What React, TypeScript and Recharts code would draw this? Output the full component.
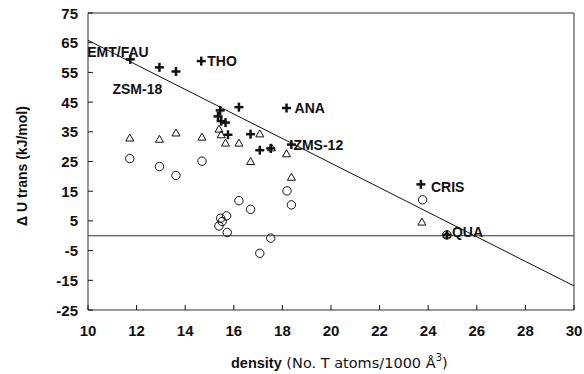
import React from 'react';
import {
  ScatterChart, Scatter, XAxis, YAxis, ReferenceLine, ReferenceArea, Label,
} from 'recharts';

const INK = '#111';
const FONT = '"Liberation Sans", Arial, Helvetica, sans-serif';

/* ─── data ─────────────────────────────────────────── */
// crosses: [density, ΔU, label]
const crossPoints: [number, number, string?][] = [
  [11.74, 59.4, 'EMT/FAU'],
  [12.94, 56.7, 'ZSM-18'],
  [13.62, 55.3],
  [14.66, 58.8, 'THO'],
  [15.44, 42.2],
  [15.35, 40.2],
  [15.48, 38.6],
  [15.66, 38.1],
  [15.76, 34.0],
  [16.21, 43.3],
  [16.69, 34.2],
  [17.07, 28.8],
  [17.52, 29.4],
  [18.17, 43.0, 'ANA'],
  [18.37, 30.7, 'ZMS-12'],
  [23.70, 17.3, 'CRIS'],
  [24.77, 0.3, 'QUA'],
];

const trianglePoints: [number, number][] = [
  [11.72, 32.9], [12.94, 32.5], [13.62, 34.6], [14.69, 33.2],
  [15.39, 35.9], [15.48, 34.0], [15.66, 31.2], [16.21, 31.2],
  [16.69, 25.0], [17.07, 34.3], [17.55, 29.6], [18.17, 27.6],
  [18.37, 19.7], [23.74, 4.6], [24.77, 0.3],
];

const circlePoints: [number, number][] = [
  [11.72, 26.0], [12.94, 23.3], [13.62, 20.3], [14.69, 25.1],
  [16.21, 11.8], [16.69, 8.9], [15.46, 5.9], [15.70, 6.7],
  [15.39, 3.3], [15.52, 4.8], [15.73, 1.1], [17.52, -0.8],
  [17.07, -5.9], [18.19, 15.1], [18.37, 10.4], [23.77, 12.1],
  [24.77, 0.3],
];

// least-squares line through the cross data (end points)
const fitLine = [
  { x: 10, y: 65.8 },
  { x: 30, y: -16.9 },
];

const xTicks = [10, 12, 14, 16, 18, 20, 22, 24, 26, 28, 30];
const yTicks = [-25, -15, -5, 5, 15, 25, 35, 45, 55, 65, 75];

// where each point label sits relative to its marker (px)
const LABEL_OFFSET: Record<string, [number, number]> = {
  'EMT/FAU': [-43, -7],
  'ZSM-18': [-47, 22],
  THO: [6, 0],
  ANA: [8, 0],
  'ZMS-12': [2, 0],
  CRIS: [10, 3],
  QUA: [5, -3],
};

const crosses = crossPoints.map(([x, y, name]) => ({ x, y, name }));
const triangles = trianglePoints.map(([x, y]) => ({ x, y }));
const circles = circlePoints.map(([x, y]) => ({ x, y }));

/* ─── marker shapes ────────────────────────────────── */
function CrossShape(props: any) {
  const { cx, cy, payload } = props;
  const off = payload.name ? LABEL_OFFSET[payload.name] : null;
  return (
    <g>
      <line x1={cx - 4.5} y1={cy} x2={cx + 4.5} y2={cy} stroke={INK} strokeWidth={2.5} />
      <line x1={cx} y1={cy - 4.5} x2={cx} y2={cy + 4.5} stroke={INK} strokeWidth={2.5} />
      {off && (
        <text x={cx + off[0]} y={cy + off[1]} dominantBaseline="central"
          fontFamily={FONT} fontWeight={700} fontSize={14} fill={INK}>
          {payload.name}
        </text>
      )}
    </g>
  );
}

function TriangleShape(props: any) {
  const { cx, cy } = props;
  return (
    <polygon
      points={`${cx},${cy - 4} ${cx - 4},${cy + 3} ${cx + 4},${cy + 3}`}
      fill="none" stroke={INK} strokeWidth={1}
    />
  );
}

function CircleShape(props: any) {
  const { cx, cy } = props;
  return <circle cx={cx} cy={cy} r={4.2} fill="none" stroke={INK} strokeWidth={1} />;
}

/* ─── ticks drawn inward ───────────────────────────── */
function XTick(props: any) {
  const { x, y, payload } = props;
  return (
    <g>
      <line x1={x} y1={y} x2={x} y2={y - 5} stroke={INK} />
      <text x={x} y={y + 20} textAnchor="middle" dominantBaseline="central"
        fontFamily={FONT} fontWeight={700} fontSize={15} fill={INK}>
        {payload.value}
      </text>
    </g>
  );
}

function YTick(props: any) {
  const { x, y, payload } = props;
  return (
    <g>
      <line x1={x} y1={y} x2={x + 5} y2={y} stroke={INK} />
      <text x={x - 10} y={y} textAnchor="end" dominantBaseline="central"
        fontFamily={FONT} fontWeight={700} fontSize={15} fill={INK}>
        {payload.value}
      </text>
    </g>
  );
}

export default function App() {
  return (
    <div style={{ position: 'absolute', left: 0, top: 0, width: 584, height: 374, background: '#fff' }}>
      <ScatterChart width={584} height={374} margin={{ top: 13, right: 10, bottom: 34, left: 0 }}>
        <XAxis
          type="number" dataKey="x" domain={[10, 30]} ticks={xTicks} interval={0}
          axisLine={false} tickLine={false} tickSize={0} tickMargin={0}
          height={30} tick={<XTick />} allowDataOverflow
        >
          <Label content={() => (
            <text x={231} y={363} dominantBaseline="central" fill={INK}>
              <tspan fontFamily={FONT} fontWeight={700} fontSize={14.5}>density</tspan>
              <tspan fontFamily='"DejaVu Sans", sans-serif' fontSize={14.5}> (No. T atoms/1000 Å</tspan>
              <tspan fontFamily='"DejaVu Sans", sans-serif' fontSize={10} dy={-6}>3</tspan>
              <tspan fontFamily='"DejaVu Sans", sans-serif' fontSize={14.5} dy={6}>)</tspan>
            </text>
          )} />
        </XAxis>
        <YAxis
          type="number" dataKey="y" domain={[-25, 75]} ticks={yTicks} interval={0}
          axisLine={false} tickLine={false} tickSize={0} tickMargin={0}
          width={88} tick={<YTick />} allowDataOverflow
        >
          <Label content={() => (
            <text x={22} y={166} textAnchor="middle" dominantBaseline="central"
              transform="rotate(-90 22 166)"
              fontFamily={FONT} fontWeight={700} fontSize={14} fill={INK}>
              Δ U trans (kJ/mol)
            </text>
          )} />
        </YAxis>

        <ReferenceArea x1={10} x2={30} y1={-25} y2={75} fill="none" stroke="#333" strokeWidth={1} />
        <ReferenceLine y={0} stroke="#333" strokeWidth={1} />
        <ReferenceLine segment={fitLine} stroke={INK} strokeWidth={1} />

        <Scatter data={circles} shape={<CircleShape />} isAnimationActive={false} />
        <Scatter data={triangles} shape={<TriangleShape />} isAnimationActive={false} />
        <Scatter data={crosses} shape={<CrossShape />} isAnimationActive={false} />
      </ScatterChart>
    </div>
  );
}
